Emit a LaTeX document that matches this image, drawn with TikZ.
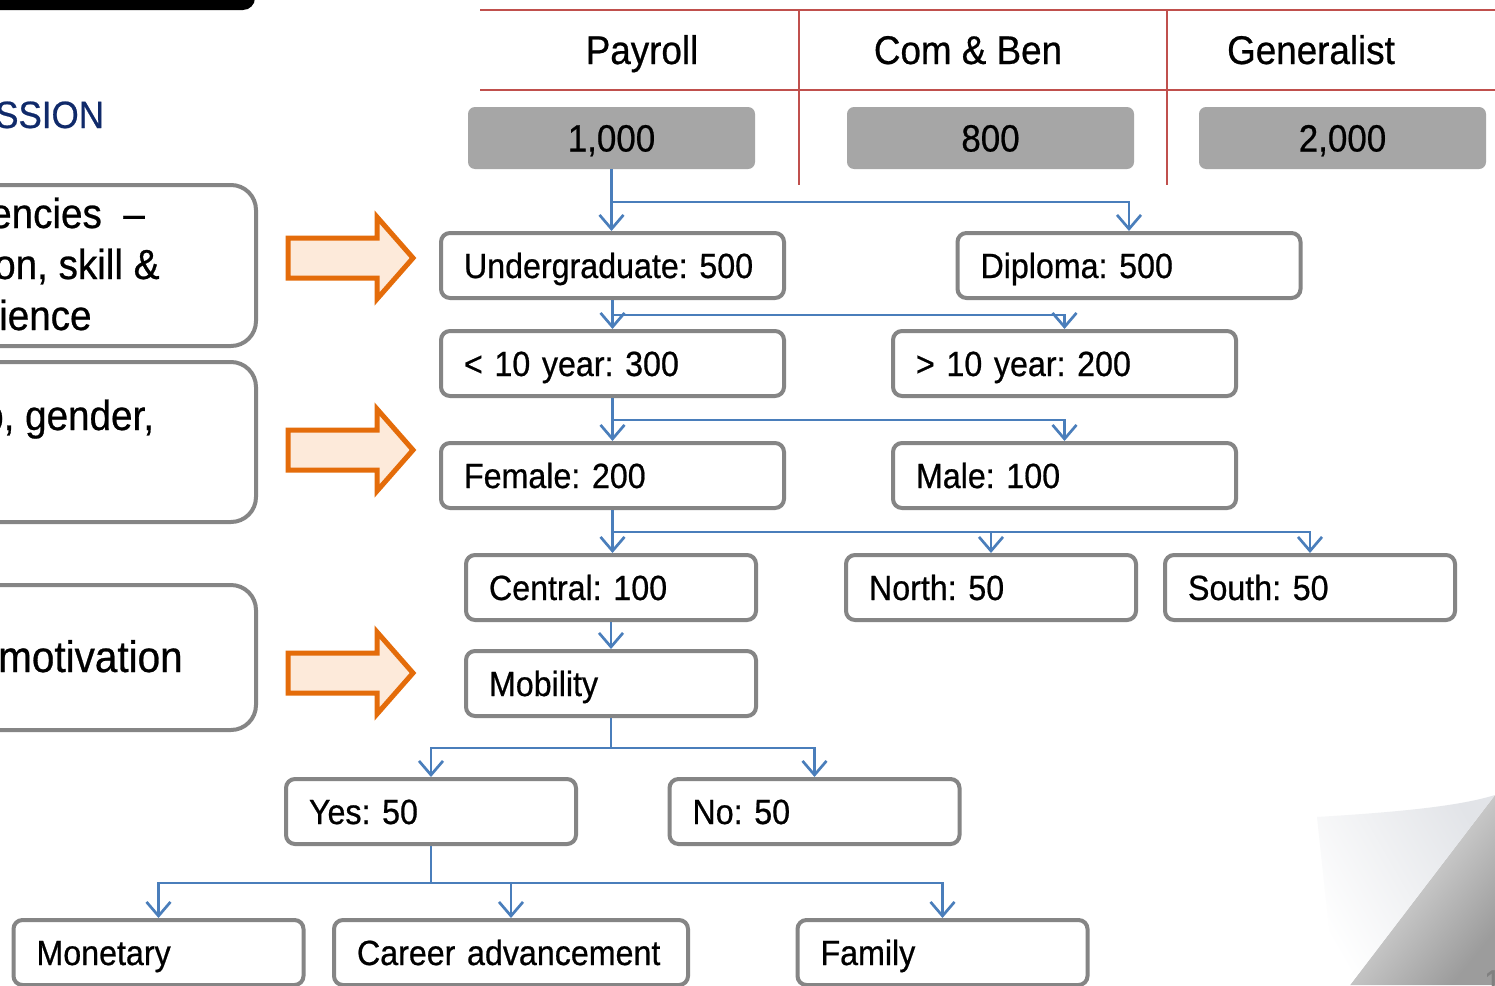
\documentclass[tikz,border=0pt]{standalone}
\usepackage{fontspec}
\setmainfont{Liberation Sans}[FakeStretch=0.92,FakeBold=0.6]
\usetikzlibrary{arrows.meta}
\definecolor{boxgray}{HTML}{858585}
\definecolor{valgray}{HTML}{A6A6A6}
\definecolor{tabred}{HTML}{C0504D}
\definecolor{lineblue}{HTML}{4A7EBB}
\definecolor{arrorange}{HTML}{E46C0A}
\definecolor{arrfill}{HTML}{FDEADA}
\definecolor{navy}{HTML}{102A6A}
\definecolor{curldark}{HTML}{9C9C9C}
\definecolor{curllight}{HTML}{EEEEEE}
\definecolor{flapgray}{HTML}{E2E4E8}
\newcommand\fsz[1]{\fontsize{#1}{#1}\selectfont}
\frenchspacing
\begin{document}
\begin{tikzpicture}[x=1pt,y=-1pt,
  bx/.style={draw=boxgray, line width=4pt, rounded corners=9pt, fill=white, minimum height=65pt,
    inner xsep=23pt, inner ysep=0pt, align=left, text height=25pt, text depth=0pt, font=\fsz{35}},
  wA/.style={minimum width=343pt, text width=297pt},
  wB/.style={minimum width=290pt, text width=244pt},
  wC/.style={minimum width=354pt, text width=308pt},
  val/.style={fill=valgray, rounded corners=7pt, minimum width=287pt, minimum height=62pt,
    inner sep=0pt, text height=27pt, text depth=0pt, font=\fsz{38}},
  hd/.style={anchor=base, font=\fsz{40}, inner sep=0pt},
  cn/.style={draw=lineblue, line width=2.7pt, -{Straight Barb[length=14pt,width=24pt]}},
  ln/.style={draw=lineblue, line width=2.7pt},
  tbl/.style={draw=tabred, line width=2pt},
  lbox/.style={draw=boxgray, line width=4pt, rounded corners=25pt},
  ltxt/.style={anchor=base west, font=\fsz{42}, inner sep=0pt},
  oarr/.style={draw=arrorange, fill=arrfill, line width=5pt, line join=miter}
]
\useasboundingbox (0,0) rectangle (1495,985);
\clip (0,0) rectangle (1495,985);
\fill[white] (0,0) rectangle (1495,985);

% top black bar
\fill[black, rounded corners=12pt] (-30,-30) rectangle (255,10);

% title fragment
\node[anchor=base west, font=\fsz{38}, text=navy, inner sep=0pt] (title) at (-5,128) {SSION};

% left boxes
\draw[lbox] (-40,185) rectangle (256,346);
\draw[lbox] (-40,362) rectangle (256,522);
\draw[lbox] (-40,585) rectangle (256,730);
\node[ltxt] (l1a) at (-10,228) {encies ~–};
\node[ltxt] (l1b) at (-6,279) {on, skill \&};
\node[ltxt] (l1c) at (-1,330) {ience};
\node[ltxt] (l2a) at (-18,430) {p, gender,};
\node[ltxt, font=\fsz{44}] (l3a) at (-2,672) {motivation};

% orange block arrows
\foreach \ty in {258,450,673}{
  \draw[oarr] (288,\ty-20) -- (377,\ty-20) -- (377,\ty-41) -- (413,\ty) -- (377,\ty+41)
     -- (377,\ty+20) -- (288,\ty+20) -- cycle;
}

% table
\draw[tbl] (480,10) -- (1495,10);
\draw[tbl] (480,90) -- (1495,90);
\draw[tbl] (799,10) -- (799,185);
\draw[tbl] (1167,10) -- (1167,185);
\node[hd] (h1) at (642,64) {Payroll};
\node[hd] (h2) at (968,64) {Com \& Ben};
\node[hd] (h3) at (1311,64) {Generalist};

\node[val] (v1) at (611.5,138) {1,000};
\node[val] (v2) at (990.5,138) {800};
\node[val] (v3) at (1342.5,138) {2,000};

% flow boxes
\node[bx,wA] (ug)  at (612.5,265.5) {Undergraduate: 500};
\node[bx,wA] (dip) at (1129,265.5) {Diploma: 500};
\node[bx,wA] (lt)  at (612.5,363.5) {< 10 year: 300};
\node[bx,wA] (gt)  at (1064.5,363.5) {> 10 year: 200};
\node[bx,wA] (fem) at (612.5,475.5) {Female: 200};
\node[bx,wA] (male) at (1064.5,475.5) {Male: 100};
\node[bx,wB] (cen) at (611,587.5) {Central: 100};
\node[bx,wB] (nor) at (991,587.5) {North: 50};
\node[bx,wB] (sou) at (1310,587.5) {South: 50};
\node[bx,wB] (mob) at (611,683.5) {Mobility};
\node[bx,wB] (yes) at (431,811.5) {Yes: 50};
\node[bx,wB] (no)  at (814.5,811.5) {No: 50};
\node[bx,wB] (mon) at (158.5,952.5) {Monetary};
\node[bx,wC] (car) at (511,952.5) {Career advancement};
\node[bx,wB] (fam) at (942.5,952.5) {Family};

% connectors
\coordinate (b0) at (0,202);
\coordinate (b1) at (0,315);
\coordinate (b2) at (0,420);
\coordinate (b3) at (0,532);
\coordinate (b4) at (0,748);
\coordinate (b5) at (0,883);

\draw[cn] (v1.south) -- (v1.south |- ug.north);
\draw[cn] (v1.south |- b0) -| (dip.north);

\draw[cn] (ug.south) -- (lt.north);
\draw[cn] (ug.south |- b1) -| (gt.north);

\draw[cn] (lt.south) -- (fem.north);
\draw[cn] (lt.south |- b2) -| (male.north);

\draw[cn] (fem.south) -- (fem.south |- cen.north);
\draw[cn] (fem.south |- b3) -| (nor.north);
\draw[cn] (fem.south |- b3) -| (sou.north);

\draw[cn] (cen.south) -- (mob.north);

\draw[ln] (mob.south) -- (mob.south |- b4);
\draw[cn] (mob.south |- b4) -| (yes.north);
\draw[cn] (mob.south |- b4) -| (no.north);

\draw[ln] (yes.south) -- (yes.south |- b5);
\draw[cn] (yes.south |- b5) -| (mon.north);
\draw[cn] (yes.south |- b5) -| (car.north);
\draw[cn] (yes.south |- b5) -| (fam.north);

% page curl
\shade[top color=curllight, bottom color=curldark, shading angle=51]
  (1495,795) -- (1495,985) -- (1350,985) -- cycle;
\shade[left color=white, right color=flapgray, shading angle=120]
  (1317,817) .. controls (1400,812) and (1460,806) .. (1495,795)
  -- (1350,985) -- (1337,985) .. controls (1328,920) .. (1317,817) -- cycle;
\node[anchor=base west, font=\fsz{33}, text=gray, inner sep=0pt] (pg) at (1484,993) {1};
\end{tikzpicture}
\end{document}
